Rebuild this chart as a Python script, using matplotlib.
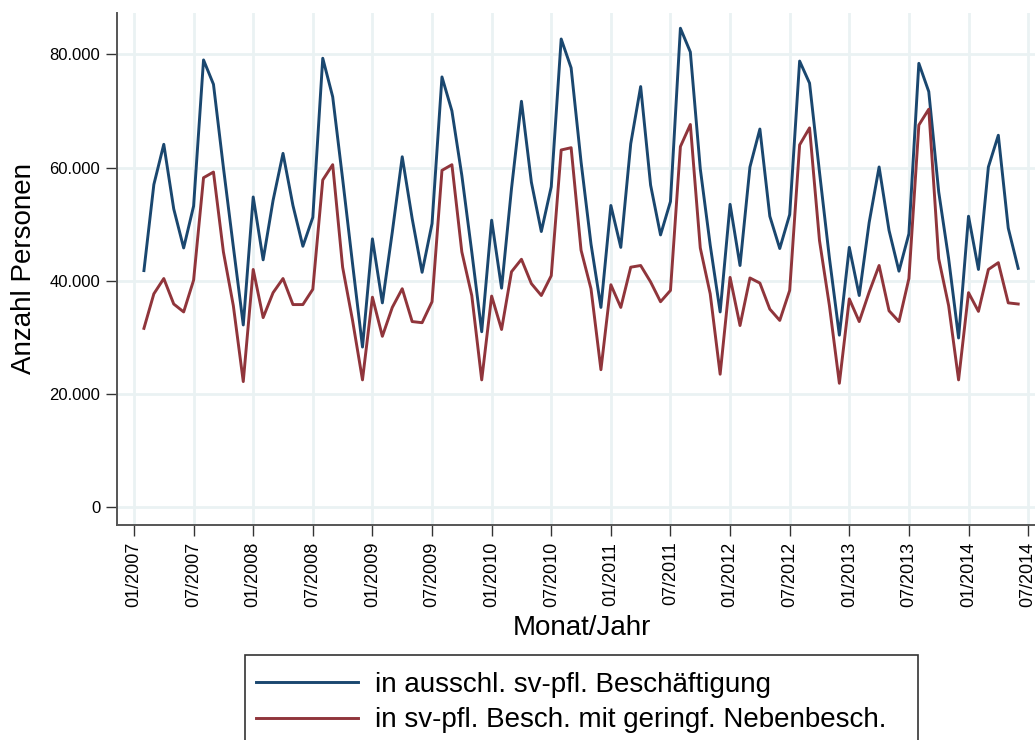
import numpy as np
import matplotlib
matplotlib.use("Agg")
import matplotlib.pyplot as plt
from matplotlib.patches import Rectangle

plt.rcParams['font.family'] = ['Liberation Sans', 'DejaVu Sans']

# Monate seit 01/2007 (02/2007 ... 06/2014)
monate = np.arange(1, 90)

# in ausschl. sv-pfl. Beschaeftigung (in Tausend)
ausschl = [41.8, 57.0, 64.1, 52.7, 45.8, 53.2, 79.0, 74.7, 60.0, 46.0,
           32.2, 54.8, 43.7, 54.2, 62.5, 53.3, 46.1, 51.2, 79.3, 72.5,
           58.0, 43.0, 28.3, 47.4, 36.1, 48.6, 61.9, 51.0, 41.5, 50.1,
           76.0, 70.0, 58.6, 45.1, 31.0, 50.7, 38.7, 56.3, 71.7, 57.4,
           48.7, 56.6, 82.7, 77.6, 61.0, 46.5, 35.3, 53.3, 45.9, 64.2,
           74.3, 56.9, 48.1, 54.0, 84.6, 80.4, 59.8, 46.3, 34.5, 53.5,
           42.7, 60.1, 66.8, 51.4, 45.7, 51.7, 78.8, 74.9, 59.2, 44.0,
           30.4, 45.9, 37.4, 50.3, 60.1, 48.9, 41.7, 48.3, 78.4, 73.4,
           55.7, 43.9, 29.9, 51.4, 42.0, 60.1, 65.7, 49.3, 42.2]

# in sv-pfl. Besch. mit geringf. Nebenbesch. (in Tausend)
neben = [31.6, 37.7, 40.4, 35.9, 34.5, 40.1, 58.2, 59.2, 45.1, 35.6,
         22.2, 42.0, 33.5, 37.9, 40.4, 35.8, 35.8, 38.5, 57.8, 60.5,
         42.4, 33.0, 22.5, 37.1, 30.2, 35.3, 38.6, 32.8, 32.6, 36.3,
         59.5, 60.5, 45.1, 37.4, 22.5, 37.3, 31.4, 41.6, 43.8, 39.5,
         37.4, 40.9, 63.1, 63.5, 45.4, 38.6, 24.3, 39.3, 35.3, 42.4,
         42.7, 39.8, 36.3, 38.3, 63.7, 67.6, 45.8, 37.7, 23.5, 40.6,
         32.1, 40.5, 39.6, 35.0, 33.0, 38.3, 64.0, 67.0, 47.1, 35.6,
         21.9, 36.8, 32.8, 38.0, 42.7, 34.7, 32.8, 40.4, 67.5, 70.3,
         43.9, 35.6, 22.5, 37.9, 34.6, 42.0, 43.2, 36.1, 35.9]

xtick_pos = list(range(0, 91, 6))
xtick_lab = ["01/2007", "07/2007", "01/2008", "07/2008", "01/2009", "07/2009",
             "01/2010", "07/2010", "01/2011", "07/2011", "01/2012", "07/2012",
             "01/2013", "07/2013", "01/2014", "07/2014"]
ytick_pos = [0, 20000, 40000, 60000, 80000]
ytick_lab = ["0", "20.000", "40.000", "60.000", "80.000"]

blau = "#1a476f"
rot = "#90353b"
gitter = "#eaf2f3"

fig = plt.figure(figsize=(10.35, 7.4), dpi=100)
ax = fig.add_axes([117/1035, 215/740, 930/1035, 512/740])

ax.plot(monate, np.array(ausschl) * 1000, color=blau, lw=2.1,
        label="in ausschl. sv-pfl. Beschäftigung")
ax.plot(monate, np.array(neben) * 1000, color=rot, lw=2.1,
        label="in sv-pfl. Besch. mit geringf. Nebenbesch.")

ax.set_xlim(-1.71, 91.9)
ax.set_ylim(-3126, 87290)

ax.set_xticks(xtick_pos)
ax.set_xticklabels(xtick_lab, rotation=90, fontsize=13)
ax.set_yticks(ytick_pos)
ax.set_yticklabels(ytick_lab, fontsize=12)
ax.tick_params(axis='both', length=8, width=1, color="#333333", pad=4)

ax.grid(True, color=gitter, lw=2)
ax.set_axisbelow(True)
for s in ['top', 'right']:
    ax.spines[s].set_visible(False)
for s in ['left', 'bottom']:
    ax.spines[s].set_color("#555555")
    ax.spines[s].set_linewidth(1.4)

ax.set_xlabel("Monat/Jahr", fontsize=20)
ax.set_ylabel("Anzahl Personen", fontsize=20)
ax.xaxis.set_label_coords(0.5, -0.175)
ax.yaxis.set_label_coords(-0.086, 0.5)

# Legendenrahmen wie in Stata, unten abgeschnitten
fig.patches.append(Rectangle((245/1035, -0.05), 673/1035, 0.05 + 85/740,
                             transform=fig.transFigure, fill=False,
                             edgecolor="#333333", lw=1.2))
fig.legend(loc='upper left', bbox_to_anchor=(239/1035, 1 - 655/740),
           frameon=False, fontsize=20, handlelength=3.7, handletextpad=0.6,
           borderpad=0.6, labelspacing=0.35, borderaxespad=0)

fig.savefig("out.png", dpi=100)
